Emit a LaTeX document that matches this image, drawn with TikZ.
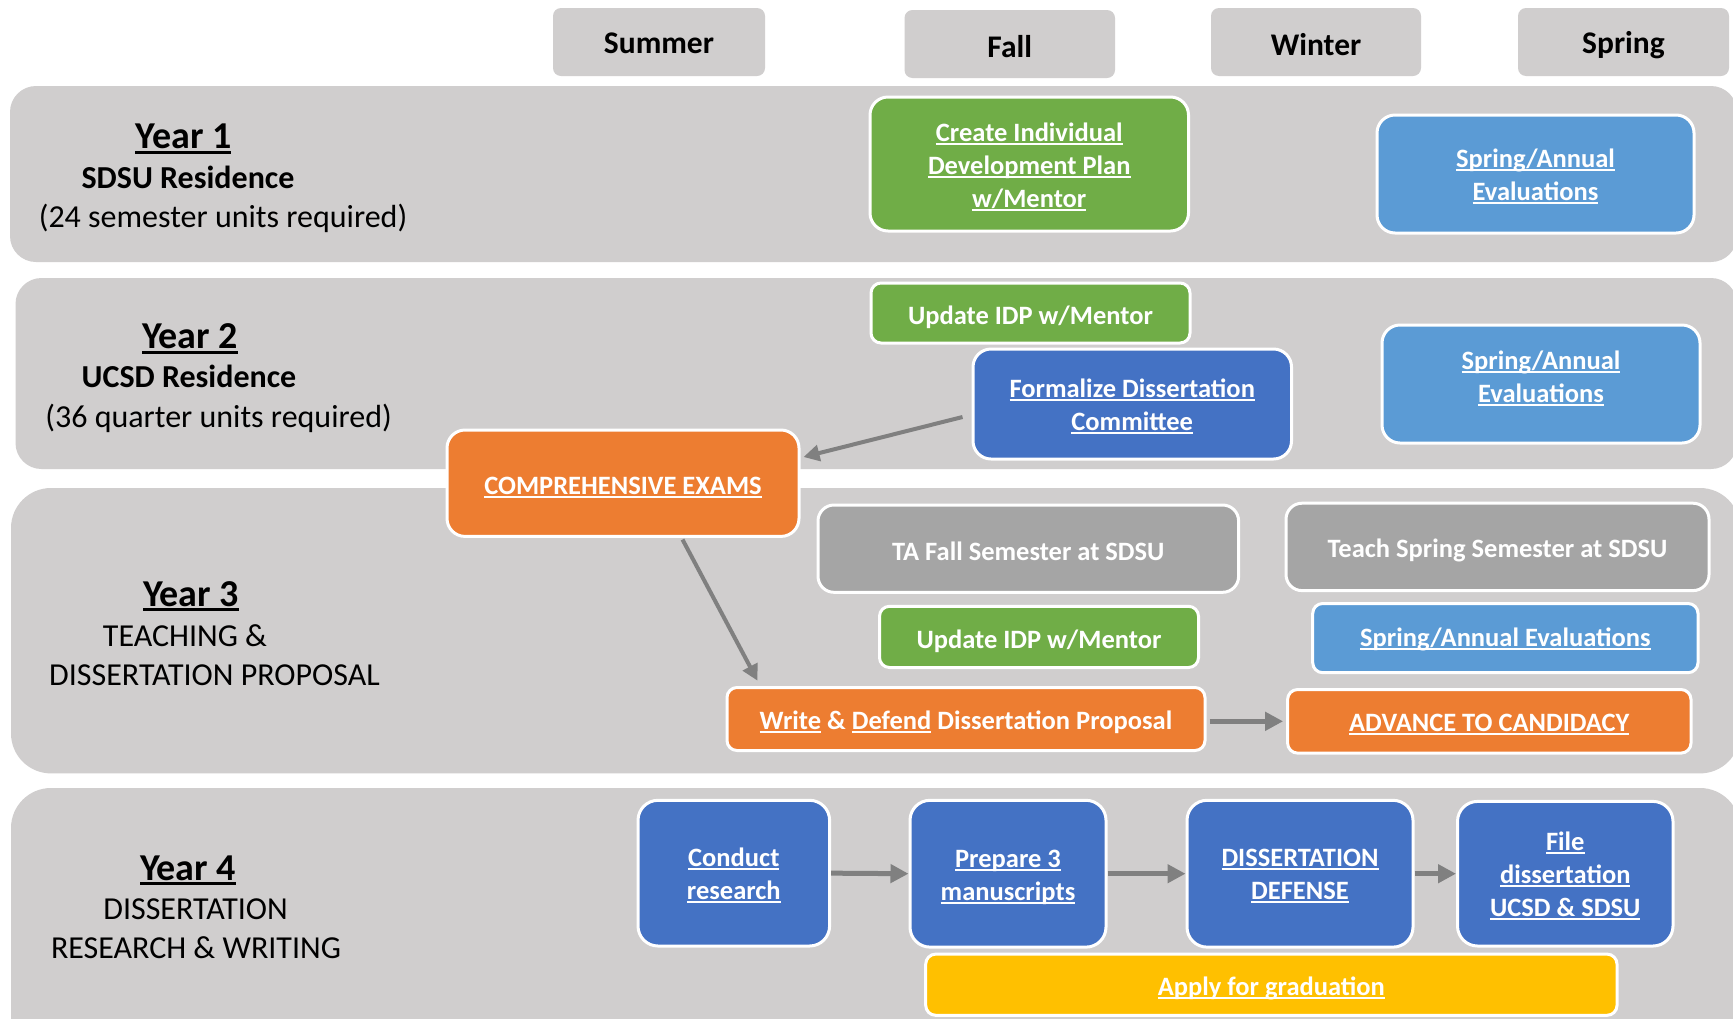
\documentclass[tikz,border=0pt]{standalone}
\usepackage{fontspec}
\setmainfont{Carlito}
\usetikzlibrary{arrows.meta,calc}
\definecolor{bandgray}{HTML}{D0CECE}
\definecolor{mygreen}{HTML}{70AD47}
\definecolor{lblue}{HTML}{5B9BD5}
\definecolor{dblue}{HTML}{4472C4}
\definecolor{myorange}{HTML}{ED7D31}
\definecolor{boxgray}{HTML}{A5A5A5}
\definecolor{myyellow}{HTML}{FFC000}
\definecolor{arrowgray}{HTML}{808080}
\newsavebox\ulbox
\newcommand\ulx[1]{\leavevmode\sbox\ulbox{#1}\rlap{\rule[-0.13em]{\wd\ulbox}{0.075em}}\usebox\ulbox}
\tikzset{
  band/.style={fill=bandgray, draw=none, inner sep=0pt},
  season/.style={fill=bandgray, draw=none, rounded corners=4pt, inner sep=0pt},
  stext/.style={inner sep=0pt, font=\bfseries\fontsize{15.75}{19}\selectfont},
  box/.style={draw=white, line width=1.5pt, rounded corners=#1, inner sep=0pt},
  box/.default=9pt,
  btext/.style={text=white, inner sep=0pt, align=center, font=\bfseries\fontsize{13.25}{16.5}\selectfont},
  ylab/.style={anchor=base, inner sep=0pt, font=\bfseries\fontsize{19}{22}\selectfont},
  ysub/.style={anchor=base, inner sep=0pt, font=\bfseries\fontsize{16}{19}\selectfont},
  ytxt/.style={anchor=base, inner sep=0pt, font=\fontsize{16}{19}\selectfont},
  arr/.style={draw=arrowgray, line width=2.5pt, -{Triangle[length=9pt,width=9pt]}},
  darr/.style={draw=arrowgray, line width=2pt, -{Triangle[length=8pt,width=8pt]}},
}
\begin{document}
\begin{tikzpicture}[x=0.5pt,y=-0.5pt]
\useasboundingbox (0,0) rectangle (1733,1018);
\fill[white] (0,0) rectangle (1733,1018);

% season headers
\node[season, minimum width=106pt, minimum height=34pt] (summer) at (659,42) {};
\node[stext] (summert) at ([yshift=-0.55pt]summer.center) {Summer};
\node[season, minimum width=105.25pt, minimum height=34pt] (fall) at (1009.75,44) {};
\node[stext] (fallt) at ([yshift=-1.1pt]fall.center) {Fall};
\node[season, minimum width=105pt, minimum height=34pt] (winter) at (1316,42) {};
\node[stext] (wintert) at ([yshift=-1.1pt]winter.center) {Winter};
\node[season, minimum width=105.5pt, minimum height=34pt] (spring) at (1623.5,42) {};
\node[stext] (springt) at ([yshift=-1.66pt]spring.center) {Spring};

% year bands
\node[band, rounded corners=13pt, minimum width=863.5pt, minimum height=88pt] (b1) at (873.5,174) {};
\node[band, rounded corners=13pt, minimum width=860.75pt, minimum height=95.5pt] (b2) at (876.25,373.5) {};
\node[band, rounded corners=20pt, minimum width=864.5pt, minimum height=142.7pt] (b3) at (875.5,630.7) {};
\node[band, rounded corners=20pt, minimum width=864.5pt, minimum height=136pt] (b4) at (875.5,924) {};

% year labels
\node[ylab] (y1a) at (183.4,148.7) {\ulx{Year 1}};
\node[ysub] (y1b) at (188,188) {SDSU Residence};
\node[ytxt] (y1c) at (223,227.7) {(24 semester units required)};

\node[ylab] (y2a) at (190,348.7) {\ulx{Year 2}};
\node[ysub] (y2b) at (189,387.7) {UCSD Residence};
\node[ytxt] (y2c) at (218.6,427.7) {(36 quarter units required)};

\node[ylab] (y3a) at (191,606.3) {\ulx{Year 3}};
\node[ytxt] (y3b) at (185,646) {TEACHING \&};
\node[ytxt] (y3c) at (214.5,685.3) {DISSERTATION PROPOSAL};

\node[ylab] (y4a) at (188,880) {\ulx{Year 4}};
\node[ytxt] (y4b) at (195.6,919.1) {DISSERTATION};
\node[ytxt] (y4c) at (196,958.6) {RESEARCH \& WRITING};

% Year 1 boxes
\node[box, fill=mygreen, minimum width=159.25pt, minimum height=67pt] (create) at (1029.25,164) {};
\node[btext] (createt) at ([yshift=-1.66pt]create.center)
  {\ulx{Create Individual}\\\ulx{Development Plan}\\\ulx{w/Mentor}};
\node[box, fill=lblue, minimum width=158.5pt, minimum height=59pt] (eval1) at (1535.5,174) {};
\node[btext] (eval1t) at ([yshift=-1.1pt]eval1.center) {\ulx{Spring/Annual}\\\ulx{Evaluations}};

% Year 2 boxes
\node[box=5pt, fill=mygreen, minimum width=159.5pt, minimum height=30pt] (idp2) at (1030.5,313) {};
\node[btext] (idp2t) at ([yshift=-2.2pt]idp2.center) {Update IDP w/Mentor};
\node[box, fill=dblue, minimum width=159.25pt, minimum height=55pt] (formal) at (1132.25,404) {};
\node[btext] (formalt) at ([yshift=-1.1pt]formal.center) {\ulx{Formalize Dissertation}\\\ulx{Committee}};
\node[box, fill=lblue, minimum width=159pt, minimum height=59pt] (eval2) at (1541,384) {};
\node[btext] (eval2t) at ([yshift=2.76pt]eval2.center) {\ulx{Spring/Annual}\\\ulx{Evaluations}};
\node[box, fill=myorange, minimum width=176pt, minimum height=53.2pt] (comp) at (623,483.2) {};
\node[btext] (compt) at ([yshift=-2.2pt]comp.center) {\ulx{COMPREHENSIVE EXAMS}};

% Year 3 boxes
\node[box=8pt, fill=boxgray, minimum width=210.3pt, minimum height=43.65pt] (tafall) at (1028.3,548.65) {};
\node[btext] (tafallt) at ([yshift=-1.1pt]tafall.center) {TA Fall Semester at SDSU};
\node[box=8pt, fill=boxgray, minimum width=211.5pt, minimum height=43.7pt] (teach) at (1497.5,546.9) {};
\node[btext] (teacht) at ([yshift=-1.66pt]teach.center) {Teach Spring Semester at SDSU};
\node[box=5pt, fill=mygreen, minimum width=159.5pt, minimum height=30.6pt] (idp3) at (1039,636.9) {};
\node[btext] (idp3t) at ([yshift=-2.2pt]idp3.center) {Update IDP w/Mentor};
\node[box=5pt, fill=lblue, minimum width=192.65pt, minimum height=34.6pt] (eval3) at (1505.35,638.1) {};
\node[btext] (eval3t) at ([yshift=-0.55pt]eval3.center) {\ulx{Spring/Annual Evaluations}};
\node[box=5pt, fill=myorange, minimum width=239pt, minimum height=31.5pt] (write) at (966,719) {};
\node[btext] (writet) at ([yshift=-1.66pt]write.center) {\ulx{Write} \& \ulx{Defend} Dissertation Proposal};
\node[box=5pt, fill=myorange, minimum width=201.7pt, minimum height=31.8pt] (adv) at (1489.3,721.3) {};
\node[btext] (advt) at ([yshift=-1.66pt]adv.center) {\ulx{ADVANCE TO CANDIDACY}};

% Year 4 boxes
\node[box=10pt, fill=dblue, minimum width=95.8pt, minimum height=72.85pt] (conduct) at (733.8,873.15) {};
\node[btext] (conductt) at ([yshift=-1.1pt]conduct.center) {\ulx{Conduct}\\\ulx{research}};
\node[box=10pt, fill=dblue, minimum width=98pt, minimum height=73.4pt] (prep) at (1008,873.7) {};
\node[btext] (prept) at ([yshift=-1.66pt]prep.center) {\ulx{Prepare 3}\\\ulx{manuscripts}};
\node[box=10pt, fill=dblue, minimum width=113pt, minimum height=73.4pt] (defense) at (1300,873.7) {};
\node[btext] (defenset) at ([yshift=-1.1pt]defense.center) {\ulx{DISSERTATION}\\\ulx{DEFENSE}};
\node[box=10pt, fill=dblue, minimum width=107.75pt, minimum height=72.3pt] (file) at (1565.25,873.7) {};
\node[btext] (filet) at ([yshift=-1.1pt]file.center) {\ulx{File}\\\ulx{dissertation}\\\ulx{UCSD \& SDSU}};
\node[box=5pt, fill=myyellow, minimum width=345.65pt, minimum height=30.6pt] (apply) at (1271.35,984.7) {};
\node[btext] (applyt) at ([yshift=-1.66pt]apply.center) {\ulx{Apply for graduation}};

% arrows
\draw[darr] ([xshift=-4.5pt,yshift=-6.5pt]formal.west) -- ([xshift=1.5pt,yshift=13.1pt]comp.east);
\draw[darr] ([xshift=29.75pt,yshift=-0.8pt]comp.south) -- ([xshift=16pt,yshift=2.65pt]write.north west);
\draw[arr] ([xshift=1.5pt]write.east |- adv.west) -- ([xshift=-1.5pt]adv.west);
\draw[arr] (conduct.east) -- (prep.west);
\draw[arr] (prep.east) -- (defense.west);
\draw[arr] (defense.east) -- (file.west);
\end{tikzpicture}
\end{document}
